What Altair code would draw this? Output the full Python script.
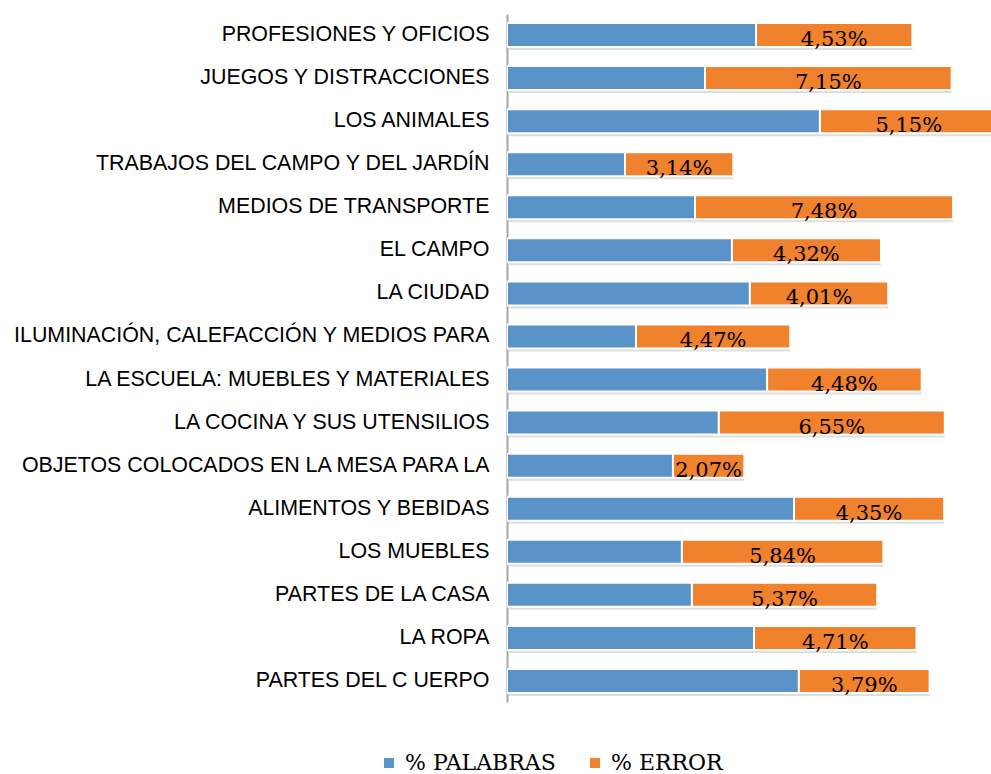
import altair as alt
import pandas as pd

categories = [
    "PROFESIONES Y OFICIOS",
    "JUEGOS Y DISTRACCIONES",
    "LOS ANIMALES",
    "TRABAJOS DEL CAMPO Y DEL JARDÍN",
    "MEDIOS DE TRANSPORTE",
    "EL CAMPO",
    "LA CIUDAD",
    "ILUMINACIÓN, CALEFACCIÓN Y MEDIOS PARA",
    "LA ESCUELA: MUEBLES Y MATERIALES",
    "LA COCINA Y SUS UTENSILIOS",
    "OBJETOS COLOCADOS EN LA MESA PARA LA",
    "ALIMENTOS Y BEBIDAS",
    "LOS MUEBLES",
    "PARTES DE LA CASA",
    "LA ROPA",
    "PARTES DEL C UERPO",
]
palabras = [7.22, 5.74, 9.07, 3.42, 5.45, 6.52, 7.04, 3.74, 7.54, 6.14, 4.81, 8.32, 5.07, 5.36, 7.16, 8.46]
error = [4.53, 7.15, 5.15, 3.14, 7.48, 4.32, 4.01, 4.47, 4.48, 6.55, 2.07, 4.35, 5.84, 5.37, 4.71, 3.79]
series_names = ["% PALABRAS", "% ERROR"]
series_colors = ["#5A93C8", "#F0812D"]

rows = []
for c, p, e in zip(categories, palabras, error):
    rows.append({"cat": c, "serie": series_names[0], "start": 0.0, "end": p, "label": ""})
    rows.append({"cat": c, "serie": series_names[1], "start": p, "end": p + e,
                 "label": f"{e:.2f}".replace(".", ",") + "%"})
df = pd.DataFrame(rows)
df["mid"] = (df["start"] + df["end"]) / 2

tot = pd.DataFrame({"cat": categories, "start": [0.0] * len(categories),
                    "end": [p + e for p, e in zip(palabras, error)]})

xscale = alt.Scale(domain=[0, 484 / 34.5], nice=False, zero=True)
yscale = alt.Scale(domain=categories, paddingInner=0.443, paddingOuter=0.21)

yenc = alt.Y("cat:N", sort=categories, scale=yscale,
             axis=alt.Axis(title=None, ticks=False, domainColor="#A6A6A6", domainWidth=2,
                           labelFont="Liberation Sans", labelFontSize=21.4, labelColor="#000000",
                           labelPadding=18, labelLimit=0, grid=False))

shadow = alt.Chart(tot).mark_bar(color="#000000", opacity=0.13, xOffset=2, yOffset=3, clip=True).encode(
    x=alt.X("start:Q", scale=xscale, axis=None),
    x2="end:Q",
    y=yenc,
)

bars = alt.Chart(df).mark_bar(stroke="white", strokeWidth=2, clip=True).encode(
    x=alt.X("start:Q", scale=xscale, axis=None),
    x2="end:Q",
    y=yenc,
    color=alt.Color("serie:N", scale=alt.Scale(domain=series_names, range=series_colors),
                    legend=alt.Legend(title=None, orient="none", direction="horizontal",
                                      legendX=-129, legendY=738,
                                      symbolType="square", symbolSize=100, symbolStrokeWidth=0,
                                      labelFont="DejaVu Serif", labelFontSize=22,
                                      labelColor="#000000", labelOffset=5, columnPadding=28,
                                      padding=0)),
)

labels = alt.Chart(df[df["serie"] == series_names[1]]).mark_text(
    font="DejaVu Serif", fontSize=21, color="#000000", baseline="alphabetic", dy=11, align="center"
).encode(
    x=alt.X("mid:Q", scale=xscale, axis=None),
    y=alt.Y("cat:N", sort=categories, scale=yscale),
    text="label:N",
)

chart = alt.layer(shadow, bars, labels).properties(
    width=484, height=688,
    background="white",
    autosize=alt.AutoSizeParams(type="none"),
    padding={"left": 507, "top": 14, "right": 0, "bottom": 72},
).configure_view(stroke=None)

chart.save("out.html", embed_options={"renderer": "svg", "actions": False})
